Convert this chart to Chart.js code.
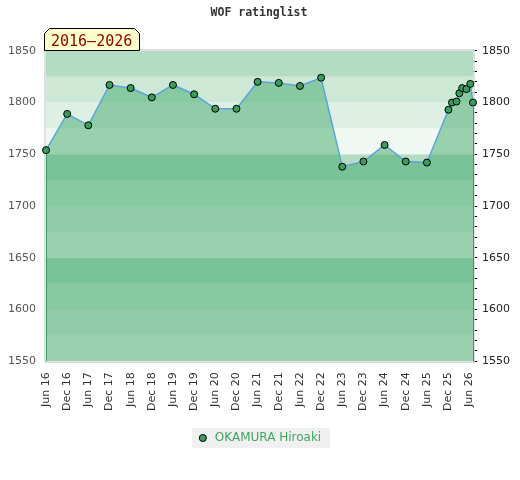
<!DOCTYPE html>
<html lang="en">
<head>
    <meta charset="UTF-8">
    <script src="https://cdn.jsdelivr.net/npm/chart.js"></script>
    <title>WOF ratinglist</title>
    <style>
        body { margin: 0; background: #fff; }
        #wrap { width: 520px; height: 480px; }
    </style>
</head>
<body>

<div id="wrap">
    <canvas id="ratingChart"></canvas>
</div>

<script>
    // rating list dates and ratings
    var listDates = ['2016-06-01', '2016-12-01', '2017-06-01', '2017-12-01', '2018-06-01', '2018-12-01',
        '2019-06-01', '2019-12-01', '2020-06-01', '2020-12-01', '2021-06-01', '2021-12-01',
        '2022-06-01', '2022-12-01', '2023-06-01', '2023-12-01', '2024-06-01', '2024-12-01',
        '2025-06-01', '2025-12-04', '2026-01-04', '2026-02-13', '2026-03-07', '2026-04-01',
        '2026-05-07', '2026-06-10', '2026-07-03'];
    var ratings = [1754, 1789, 1778, 1817, 1814, 1805, 1817, 1808, 1794, 1794, 1820, 1819,
        1816, 1824, 1738, 1743, 1759, 1743, 1742, 1793, 1800, 1801, 1809, 1814, 1813, 1818, 1800];

    var tickLabels = ['Jun 16', 'Dec 16', 'Jun 17', 'Dec 17', 'Jun 18', 'Dec 18', 'Jun 19', 'Dec 19',
        'Jun 20', 'Dec 20', 'Jun 21', 'Dec 21', 'Jun 22', 'Dec 22', 'Jun 23', 'Dec 23', 'Jun 24',
        'Dec 24', 'Jun 25', 'Dec 25', 'Jun 26'];
    var playerName = 'OKAMURA Hiroaki';
    var periodText = '2016–2026';
    var ratingMin = 1550, ratingMax = 1850;

    var monthNames = ['Jan', 'Feb', 'Mar', 'Apr', 'May', 'Jun', 'Jul', 'Aug', 'Sep', 'Oct', 'Nov', 'Dec'];

    // months counted from June 2016
    function dateToMonth(s) {
        var p = s.split('-').map(Number);
        return (p[0] - 2016) * 12 + (p[1] - 6) + (p[2] - 1) / 31;
    }
    function labelToMonth(s) {
        var p = s.split(' ');
        return (2000 + Number(p[1]) - 2016) * 12 + monthNames.indexOf(p[0]) - 5;
    }

    var points = listDates.map(function (d, i) {
        return { x: dateToMonth(d), y: ratings[i] };
    });
    var tickMonths = tickLabels.map(labelToMonth);

    // background bands + plot frame
    var bandPlugin = {
        id: 'bands',
        beforeDatasetsDraw: function (chart) {
            var ctx = chart.ctx, a = chart.chartArea, y = chart.scales.y;
            var shades = ['#f0f8f3', '#deefe4', '#cde9d6', '#b3dcc2'];
            ctx.save();
            for (var v = ratingMin, i = 0; v < ratingMax; v += 25, i++) {
                var top = y.getPixelForValue(v + 25), bot = y.getPixelForValue(v);
                ctx.fillStyle = shades[i % 4];
                ctx.fillRect(a.left, top, a.right - a.left, bot - top);
            }
            ctx.strokeStyle = '#d6d6d6';
            ctx.lineWidth = 1.5;
            ctx.strokeRect(a.left - 1, a.top - 1, a.right - a.left + 2, a.bottom - a.top + 2);
            ctx.restore();
        },
        afterDatasetsDraw: function (chart) {
            // green edges of the filled area
            var ctx = chart.ctx, a = chart.chartArea;
            var xs = chart.scales.x, ys = chart.scales.y;
            var first = points[0], last = points[points.length - 1];
            ctx.save();
            ctx.strokeStyle = '#3a9d5d';
            ctx.lineWidth = 1;
            [first, last].forEach(function (p) {
                var px = Math.round(xs.getPixelForValue(p.x)) + 0.5;
                ctx.beginPath();
                ctx.moveTo(px, ys.getPixelForValue(p.y) + 4);
                ctx.lineTo(px, a.bottom);
                ctx.stroke();
            });
            ctx.restore();
        },
        beforeDraw: function (chart) {
            // legend background
            var hb = chart.legend && chart.legend.legendHitBoxes && chart.legend.legendHitBoxes[0];
            if (!hb) return;
            var ctx = chart.ctx;
            ctx.save();
            ctx.fillStyle = '#f0f0f0';
            ctx.fillRect(hb.left - 5, hb.top - 4, hb.width + 14, hb.height + 8);
            ctx.restore();
        },
        afterDraw: function (chart) {
            // yellow period tag above the plot
            var ctx = chart.ctx, a = chart.chartArea;
            var x0 = a.left - 1.5, x1 = a.left + 93.5, y1 = Math.round(a.top) - 0.5, y0 = y1 - 22, c = 5;
            ctx.save();
            ctx.beginPath();
            ctx.moveTo(x0, y1);
            ctx.lineTo(x0, y0 + c);
            ctx.lineTo(x0 + c, y0);
            ctx.lineTo(x1 - c, y0);
            ctx.lineTo(x1, y0 + c);
            ctx.lineTo(x1, y1);
            ctx.closePath();
            ctx.fillStyle = '#ffffcc';
            ctx.fill();
            ctx.strokeStyle = '#000';
            ctx.lineWidth = 1;
            ctx.stroke();
            ctx.fillStyle = '#8b0000';
            ctx.font = '15px "DejaVu Sans Mono"';
            ctx.textBaseline = 'alphabetic';
            ctx.fillText(periodText, x0 + 6.5, y0 + 17.5);
            ctx.restore();
        }
    };

    var ctx = document.getElementById('ratingChart').getContext('2d');
    var myChart = new Chart(ctx, {
        type: 'line',
        data: {
            datasets: [{
                label: playerName,
                data: points,
                fill: 'start',
                backgroundColor: 'rgba(66, 170, 105, 0.5)',
                borderColor: '#5ba3dc',
                borderWidth: 1.5,
                tension: 0,
                pointRadius: 3.5,
                pointBackgroundColor: '#3a9d5d',
                pointBorderColor: '#000',
                pointBorderWidth: 1,
                clip: false
            }]
        },
        plugins: [bandPlugin],
        options: {
            responsive: true,
            maintainAspectRatio: false,
            animation: false,
            layout: { padding: { left: 8, right: 10, top: 0, bottom: 26 } },
            scales: {
                x: {
                    type: 'linear',
                    min: points[0].x,
                    max: points[points.length - 1].x,
                    afterBuildTicks: function (scale) {
                        scale.ticks = tickMonths.map(function (m) { return { value: m }; });
                    },
                    grid: { display: false, drawTicks: false },
                    border: { display: false },
                    ticks: {
                        autoSkip: false,
                        minRotation: 90,
                        maxRotation: 90,
                        padding: 11,
                        color: '#333',
                        font: { family: 'DejaVu Sans', size: 11 },
                        callback: function (v) {
                            var i = tickMonths.indexOf(v);
                            return i >= 0 ? tickLabels[i] : '';
                        }
                    }
                },
                y: {
                    position: 'left',
                    min: ratingMin,
                    max: ratingMax,
                    afterFit: function (scale) { scale.width = 38; },
                    grid: { display: false, drawTicks: false },
                    border: { display: false },
                    ticks: {
                        stepSize: 50,
                        padding: 10,
                        color: '#555',
                        font: { family: 'DejaVu Sans', size: 11 },
                        callback: function (v) { return String(v); }
                    }
                },
                y2: {
                    position: 'right',
                    min: ratingMin,
                    max: ratingMax,
                    afterFit: function (scale) { scale.width = 37; },
                    grid: {
                        drawOnChartArea: false,
                        drawTicks: true,
                        tickLength: 4,
                        tickColor: '#000'
                    },
                    border: { display: false },
                    ticks: {
                        stepSize: 10,
                        autoSkip: false,
                        padding: 5,
                        color: '#222',
                        font: { family: 'DejaVu Sans', size: 11 },
                        callback: function (v) { return v % 50 === 0 ? String(v) : ''; }
                    }
                }
            },
            plugins: {
                title: {
                    display: true,
                    text: 'WOF ratinglist',
                    color: '#333',
                    font: { family: 'DejaVu Sans Mono', size: 11.5, weight: 'bold' },
                    padding: { top: 6, bottom: 31 }
                },
                legend: {
                    position: 'bottom',
                    labels: {
                        usePointStyle: true,
                        pointStyle: 'circle',
                        boxWidth: 12,
                        boxHeight: 5,
                        padding: 10,
                        color: '#3fa660',
                        font: { family: 'DejaVu Sans', size: 12 }
                    }
                },
                tooltip: { enabled: false }
            }
        }
    });
</script>

</body>
</html>
